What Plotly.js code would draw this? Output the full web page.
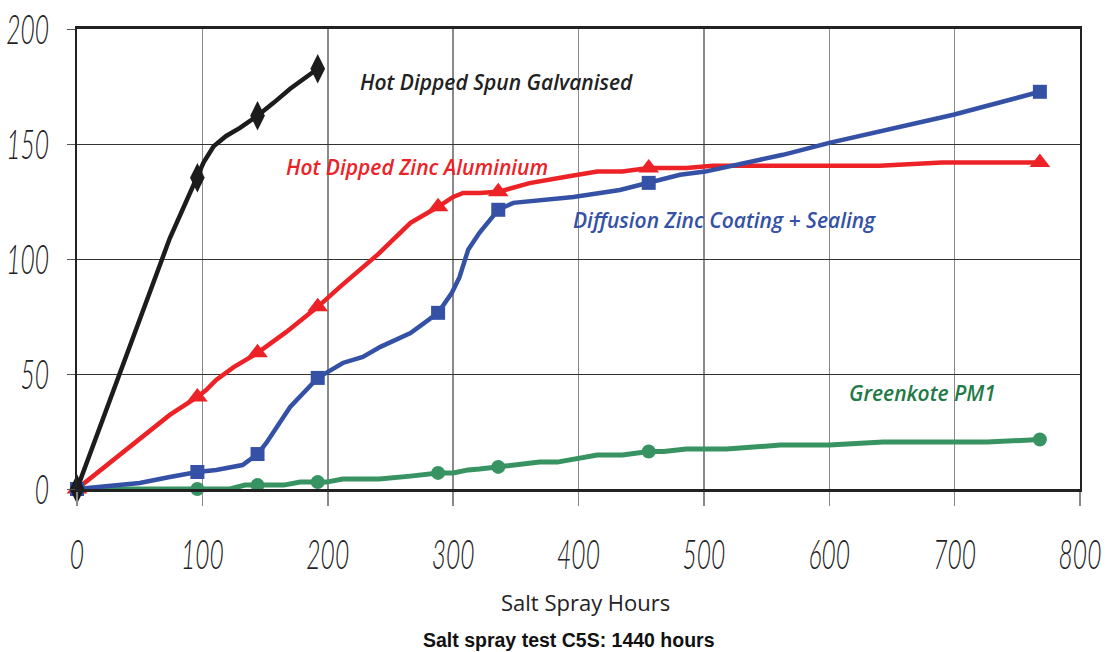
<!DOCTYPE html>
<html>
<head>
<meta charset="utf-8">
<script src="https://cdn.plot.ly/plotly-3.0.1.min.js"></script>
<style>html,body{margin:0;padding:0;background:#fff;}#chart{width:1110px;height:652px;}</style>
</head>
<body>
<div id="chart"></div>
<script>
// Measured test hours (points carrying a marker)
const measuredHours = [0, 96, 144, 192, 288, 336, 456, 768];

// Hot Dipped Spun Galvanised
const galvX = [0, 74, 83, 96, 101, 109, 119, 130, 144, 157, 170, 192];
const galvY = [0, 109, 120, 135.3, 142, 149, 153.5, 157, 162.3, 168, 174, 182.7];

// Hot Dipped Zinc Aluminium
const zaX = [0, 50, 74, 96, 103, 111, 125, 144, 167, 192, 210, 240, 266, 288, 300, 308, 321, 336, 361, 390, 415, 435, 456, 486, 507, 640, 690, 768];
const zaY = [0, 21.7, 32.2, 40, 43, 47.4, 53, 59.2, 68.3, 79.2, 88, 102, 115.7, 122.7, 127, 128.7, 128.7, 129.2, 133, 135.8, 138, 138, 139.6, 139.6, 140.5, 140.5, 142, 142];

// Diffusion Zinc Coating + Sealing
const dzX = [0, 50, 74, 96, 111, 132, 144, 151, 170, 192, 212, 228, 242, 266, 288, 299, 305, 312, 321, 336, 348, 396, 433, 456, 481, 501, 563, 600, 699, 768];
const dzY = [0, 2.6, 5.2, 7.4, 8.3, 10.4, 15.2, 20, 35.7, 48.3, 54.8, 57.4, 61.8, 67.8, 76.6, 85.3, 92, 104, 111.4, 121.4, 124.4, 127, 130, 133.1, 136.6, 138, 145.3, 150.5, 162.7, 172.7];

// Greenkote PM1
const gkX = [0, 96, 122, 134, 144, 165, 178, 192, 199, 212, 241, 266, 288, 300, 312, 321, 336, 369, 383, 415, 435, 456, 468, 486, 518, 561, 600, 643, 726, 768];
const gkY = [0, 0, 0, 1.7, 1.7, 1.7, 3, 3, 3, 4.3, 4.3, 5.6, 7, 7, 8.3, 8.7, 9.6, 11.7, 11.7, 14.8, 14.8, 16.3, 16.3, 17.4, 17.4, 19.1, 19.1, 20.4, 20.4, 21.5];

const xTicks = [0, 100, 200, 300, 400, 500, 600, 700, 800];
const yTicks = [0, 50, 100, 150, 200];

const seriesNames = ['Hot Dipped Spun Galvanised', 'Hot Dipped Zinc Aluminium', 'Diffusion Zinc Coating + Sealing', 'Greenkote PM1'];
const xTitle = 'Salt Spray Hours';
const caption = 'Salt spray test C5S: 1440 hours';

function sizes(xs, s) { return xs.map(v => measuredHours.includes(v) ? s : 0); }

function mk(name, xs, ys, color, symbol, msize, lw) {
  return {
    name: name, x: xs, y: ys, type: 'scatter', mode: 'lines+markers',
    line: {color: color, width: lw},
    marker: {symbol: symbol, size: sizes(xs, msize), color: color, opacity: 1, line: {width: 0}},
    cliponaxis: false, hoverinfo: 'x+y', showlegend: false
  };
}

const traces = [
  mk(seriesNames[3], gkX, gkY, '#379462', 'circle', 14, 5),
  mk(seriesNames[1], zaX, zaY, '#ec2227', 'triangle-up', 18, 4.5),
  mk(seriesNames[2], dzX, dzY, '#3451a5', 'square', 14, 4.5),
  mk(seriesNames[0], galvX, galvY, '#1c1c1c', 'diamond-tall', 21, 4.5)
];

const labFont = {family: 'Open Sans, Noto Sans, sans-serif', size: 21, style: 'italic', weight: 600};
const tickFont = {family: 'Lato, DejaVu Sans, sans-serif', size: 30, style: 'italic', weight: 300, color: '#222'};

const layout = {
  width: 1110, height: 652,
  margin: {l: 77, r: 30, t: 29, b: 163},
  paper_bgcolor: '#fff', plot_bgcolor: '#fff',
  xaxis: {
    range: [0, 800], tickvals: xTicks, ticktext: xTicks.map(String),
    showgrid: true, gridcolor: '#8a8a8a', gridwidth: 1.5,
    zeroline: false, showline: true, linecolor: '#222', linewidth: 3, mirror: true,
    ticks: 'outside', ticklen: 14, tickcolor: '#888', tickwidth: 1.5,
    ticklabelstandoff: 22,
    tickfont: tickFont,
    fixedrange: true
  },
  yaxis: {
    range: [0, 200], tickvals: yTicks, ticktext: yTicks.map(String),
    showgrid: true, gridcolor: '#333', gridwidth: 1,
    zeroline: false, showline: true, linecolor: '#222', linewidth: 2, mirror: true,
    ticks: 'outside', ticklen: 8, tickcolor: '#555', tickwidth: 1,
    ticklabelstandoff: 12,
    tickfont: tickFont,
    fixedrange: true
  },
  annotations: [
    {text: seriesNames[0], x: 224, y: 177, xref: 'x', yref: 'y', xanchor: 'left', yanchor: 'middle', showarrow: false, font: Object.assign({}, labFont, {color: '#222'})},
    {text: seriesNames[1], x: 165, y: 140, xref: 'x', yref: 'y', xanchor: 'left', yanchor: 'middle', showarrow: false, font: Object.assign({}, labFont, {color: '#ec2227'})},
    {text: seriesNames[2], x: 394, y: 117, xref: 'x', yref: 'y', xanchor: 'left', yanchor: 'middle', showarrow: false, font: Object.assign({}, labFont, {color: '#3451a5'})},
    {text: seriesNames[3], x: 614, y: 41.8, xref: 'x', yref: 'y', xanchor: 'left', yanchor: 'middle', showarrow: false, font: Object.assign({}, labFont, {color: '#1f7a47'})},
    {text: xTitle, xref: 'paper', yref: 'paper', showarrow: false, xanchor: 'center', yanchor: 'middle',
     x: (585 - 77) / (1110 - 77 - 30), y: -(602 - 489) / (489 - 29),
     font: {family: 'Open Sans, Noto Sans, sans-serif', size: 22, color: '#222'}},
    {text: '<b>' + caption + '</b>', xref: 'paper', yref: 'paper', showarrow: false, xanchor: 'center', yanchor: 'middle',
     x: (569 - 77) / (1110 - 77 - 30), y: -(640 - 489) / (489 - 29),
     font: {family: 'Liberation Sans, Arial, sans-serif', size: 19.5, color: '#111'}}
  ]
};

// Make the tick numerals tall and narrow like the reference's condensed face
function reshape(sel, sx, sy, anchorRight) {
  document.querySelectorAll(sel).forEach(t => {
    if (t.dataset.reshaped) return;
    const b = t.getBBox();
    const cx = anchorRight ? b.x + b.width : b.x + b.width / 2;
    const cy = b.y + b.height / 2;
    const orig = t.getAttribute('transform') || '';
    t.setAttribute('transform', orig + ' translate(' + cx + ',' + cy + ') scale(' + sx + ',' + sy + ') translate(' + (-cx) + ',' + (-cy) + ')');
    t.dataset.reshaped = '1';
  });
}

Plotly.newPlot('chart', traces, layout, {displayModeBar: false, staticPlot: true}).then(() => {
  reshape('.xtick text', 0.82, 1.38, false);
  reshape('.ytick text', 0.82, 1.38, true);
});
</script>
</body>
</html>
